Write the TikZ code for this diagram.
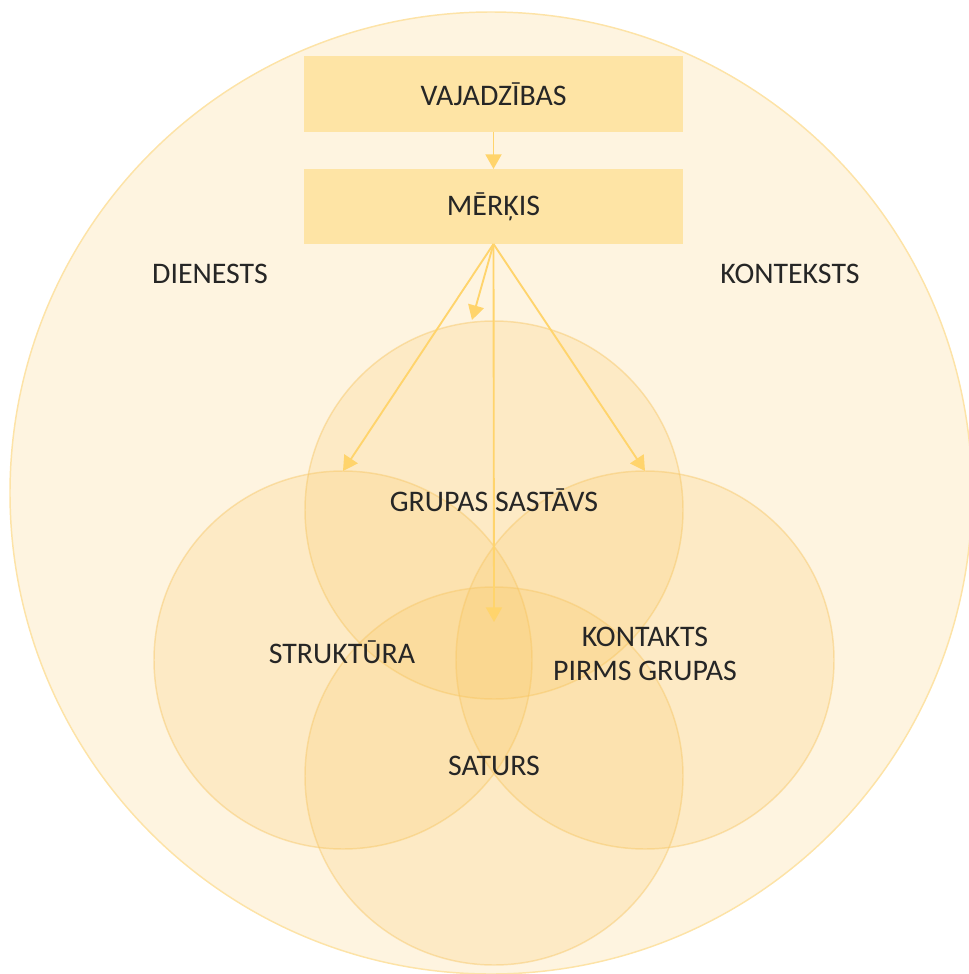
\documentclass[tikz,border=0pt]{standalone}
\usepackage{fontspec}
\setmainfont{Carlito}
\usetikzlibrary{arrows.meta}
\definecolor{outerfill}{HTML}{FEF4E0}
\definecolor{outerline}{HTML}{FDE3A7}
\definecolor{boxfill}{HTML}{FEE4A5}
\definecolor{ringfill}{HTML}{F9C55A}
\definecolor{ringline}{HTML}{F7C665}
\definecolor{arrowcol}{HTML}{FFD46C}
\definecolor{txt}{HTML}{262626}
\tikzset{
  lbl/.style={text=txt, font=\fontsize{22.4}{25.5}\selectfont, align=center, inner sep=0pt},
  stagebox/.style={rectangle, fill=boxfill, minimum width=284.25pt, minimum height=56.25pt, inner sep=0pt, outer sep=0pt},
  ring/.style={circle, minimum size=283.5pt, inner sep=0pt, outer sep=0pt,
    fill=ringfill, fill opacity=0.2, draw=ringline, draw opacity=0.45, line width=1.1pt},
  flow/.style={draw=arrowcol, line width=1.4pt, -{Triangle[length=11pt,width=12pt]}}
}
\begin{document}
\begin{tikzpicture}[x=0.75pt,y=-0.75pt]
\useasboundingbox (0,0) rectangle (969,974);
% surrounding circle
\node[circle, minimum size=721.5pt, inner sep=0pt, fill=outerfill, draw=outerline, line width=1.1pt] (outer) at (491,493) {};
% stage boxes
\node[stagebox] (needs) at (493.5,94) {};
\node[stagebox] (goal) at (493.5,206.5) {};
% overlapping circles
\node[ring] (top) at (494,510) {};
\node[ring] (left) at (343,660) {};
\node[ring] (right) at (645,660) {};
\node[ring] (bottom) at (494,776) {};
% arrow targets
\coordinate (tShort) at (472,320);
\coordinate (tMid) at (494,622);
% arrows
\draw[flow] (needs.south) -- (goal.north);
\draw[flow] (goal.south) -- (left.north);
\draw[flow] (goal.south) -- (tShort);
\draw[flow] (goal.south) -- (tMid);
\draw[flow] (goal.south) -- (right.north);
% labels
\node[lbl] (l1) at (needs.center) {VAJADZĪBAS};
\node[lbl] (l2) at (goal.center) {MĒRĶIS};
\node[lbl] (l3) at (210,274) {DIENESTS};
\node[lbl] (l4) at (790,274) {KONTEKSTS};
\node[lbl] (l5) at (494,500) {GRUPAS SASTĀVS};
\node[lbl] (l6) at (342,652) {STRUKTŪRA};
\node[lbl] (l7) at (645,654) {KONTAKTS\\PIRMS GRUPAS};
\node[lbl] (l8) at (494,766) {SATURS};
\end{tikzpicture}
\end{document}
